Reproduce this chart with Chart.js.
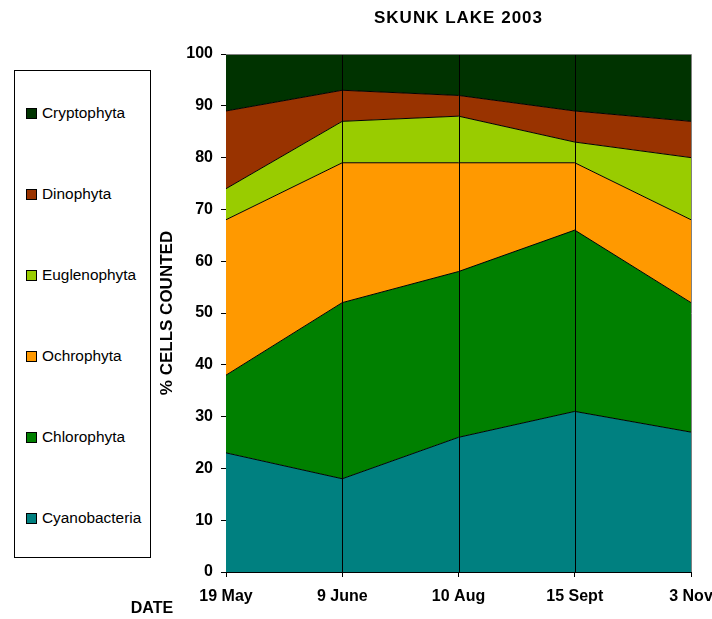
<!DOCTYPE html>
<html>
<head>
<meta charset="utf-8">
<script src="https://cdn.jsdelivr.net/npm/chart.js@4/dist/chart.umd.min.js"></script>
<style>
  body { margin: 0; background: #fff; }
  #wrap { position: relative; width: 712px; height: 619px; }
  #legend {
    position: absolute; left: 14px; top: 70px; width: 135px; height: 486px;
    border: 1px solid #000; background: #fff;
    font-family: "Liberation Sans", Arial, sans-serif; font-size: 15.4px; color: #000;
  }
  #legend .item { position: absolute; left: 11px; height: 18px; line-height: 18px; white-space: nowrap; }
  #legend .box { display: inline-block; width: 9px; height: 9px; border: 1px solid #000; margin-right: 5px; vertical-align: -1px; }
</style>
</head>
<body>
<div id="wrap">
  <canvas id="chart" width="712" height="619"></canvas>
  <div id="legend"></div>
</div>
<script>
const dates = ["19 May", "9 June", "10 Aug", "15 Sept", "3 Nov"];
const groups = ["Cyanobacteria", "Chlorophyta", "Ochrophyta", "Euglenophyta", "Dinophyta", "Cryptophyta"];
const cyanobacteria = [23, 18, 26, 31, 27];
const chlorophyta = [15, 34, 32, 35, 25];
const ochrophyta = [30, 27, 21, 13, 16];
const euglenophyta = [6, 8, 9, 4, 12];
const dinophyta = [15, 6, 4, 6, 7];
const cryptophyta = [11, 7, 8, 11, 13];
const yTicks = [0, 10, 20, 30, 40, 50, 60, 70, 80, 90, 100];

const colors = ["#008080", "#008000", "#FF9900", "#99CC00", "#993300", "#003300"];
const series = [cyanobacteria, chlorophyta, ochrophyta, euglenophyta, dinophyta, cryptophyta];
const font = "'Liberation Sans', Arial, sans-serif";

// legend, top to bottom reversed like the stack
const legend = document.getElementById("legend");
groups.slice().reverse().forEach((name, i) => {
  const idx = groups.length - 1 - i;
  const div = document.createElement("div");
  div.className = "item";
  div.style.top = (33 + i * 81) + "px";
  div.innerHTML = '<span class="box" style="background:' + colors[idx] + '"></span>' + name;
  legend.appendChild(div);
});

const frame = {
  id: "frame",
  afterDatasetsDraw(chart) {
    const { ctx, chartArea: a } = chart;
    const x = chart.scales.x;
    ctx.save();
    ctx.lineWidth = 1;
    // vertical lines over the areas
    ctx.strokeStyle = "#000";
    for (let i = 1; i < dates.length - 1; i++) {
      const px = Math.round(x.getPixelForValue(i)) + 0.5;
      ctx.beginPath();
      ctx.moveTo(px, a.top);
      ctx.lineTo(px, a.bottom);
      ctx.stroke();
    }
    ctx.strokeStyle = "#808080";
    ctx.beginPath();
    ctx.moveTo(a.left, a.top + 0.5);
    ctx.lineTo(a.right + 0.5, a.top + 0.5);
    ctx.lineTo(a.right + 0.5, a.bottom);
    ctx.stroke();
    ctx.restore();
  },
  afterDraw(chart) {
    const { ctx, chartArea: a } = chart;
    ctx.save();
    ctx.fillStyle = "#000";
    ctx.textAlign = "center";
    ctx.textBaseline = "middle";
    ctx.font = "bold 16px " + font;
    ctx.fillText("DATE", a.left - 74, a.bottom + 37);
    ctx.font = "bold 17px " + font;
    ctx.letterSpacing = "1px";
    ctx.fillText("SKUNK LAKE 2003", (a.left + a.right) / 2, 18);
    ctx.restore();
  }
};

new Chart(document.getElementById("chart"), {
  type: "line",
  data: {
    labels: dates,
    datasets: groups.map((g, i) => ({
      label: g,
      data: series[i],
      backgroundColor: colors[i],
      borderColor: "#000",
      borderWidth: 1,
      pointRadius: 0,
      tension: 0,
      fill: i === 0 ? "origin" : "-1"
    }))
  },
  options: {
    responsive: false,
    animation: false,
    layout: { padding: { left: 152, right: 21, top: 54, bottom: 0 } },
    plugins: {
      legend: { display: false },
      tooltip: { enabled: false },
      title: { display: false }
    },
    scales: {
      x: {
        offset: false,
        grid: { drawOnChartArea: false, color: "#000", tickLength: 5, offset: false },
        border: { color: "#000" },
        ticks: { color: "#000", font: { family: font, size: 16, weight: "bold" }, padding: 10, maxRotation: 0 },
        afterFit(s) { s.height = 47; s.paddingRight = 0; s.paddingLeft = 0; }
      },
      y: {
        stacked: true,
        min: 0,
        max: 100,
        afterBuildTicks(s) { s.ticks = yTicks.map(v => ({ value: v })); },
        grid: { drawOnChartArea: false, color: "#000", tickLength: 5 },
        border: { color: "#000" },
        ticks: { color: "#000", font: { family: font, size: 16, weight: "bold" }, padding: 8 },
        title: {
          display: true,
          text: "% CELLS COUNTED",
          color: "#000",
          font: { family: font, size: 17, weight: "bold" },
          padding: { top: 5, bottom: 0 }
        },
        afterFit(s) { s.width = 74; }
      }
    }
  },
  plugins: [frame]
});
</script>
</body>
</html>
